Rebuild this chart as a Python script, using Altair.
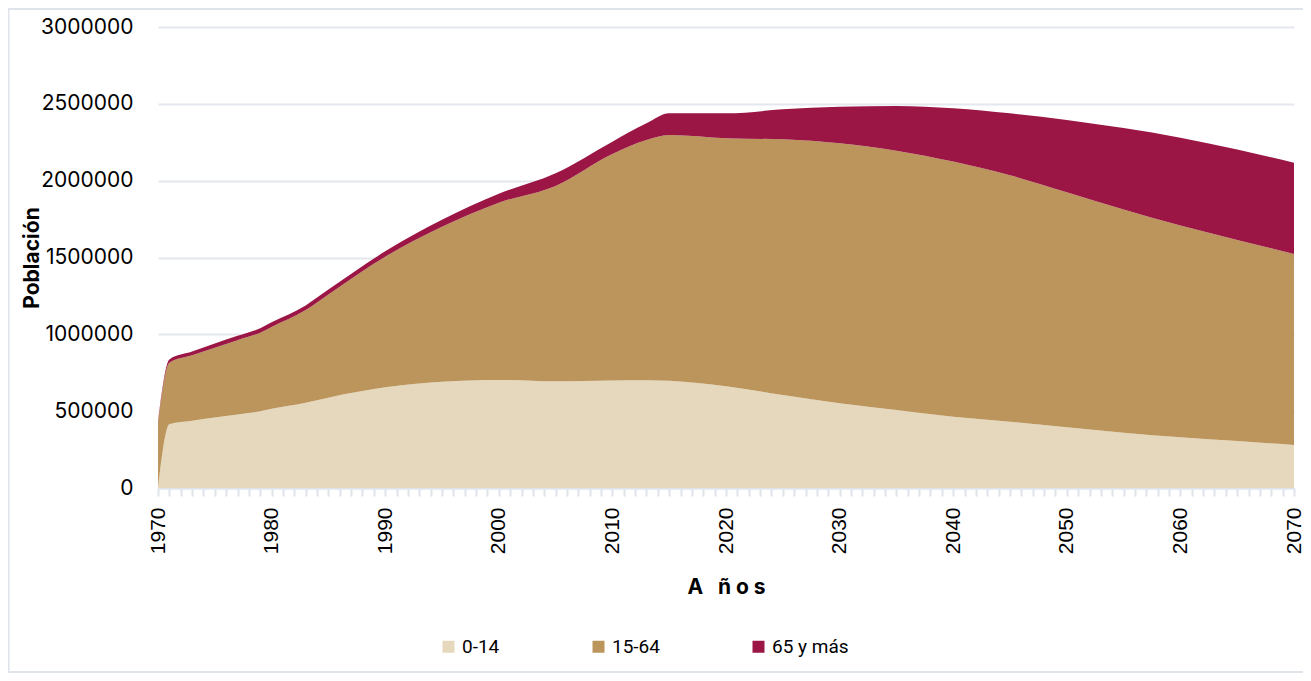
import altair as alt
import pandas as pd

years = [1970, 1971, 1973, 1975, 1977, 1979, 1980, 1983, 1985, 1990, 1995, 2000,
         2005, 2010, 2013, 2015, 2020, 2025, 2030, 2035, 2040, 2045, 2050, 2055,
         2060, 2065, 2070]
pop_0_14 = [0, 415000, 437000, 458000, 479000, 500000, 515000, 555000, 588000,
            655000, 692000, 703000, 694000, 700000, 702000, 698000, 662000,
            605000, 551000, 508000, 464000, 431000, 395000, 360000, 330000,
            306000, 280000]
pop_15_64 = [420000, 400000, 427000, 455000, 483000, 511000, 533000, 603000,
             672000, 850000, 1008000, 1154000, 1272000, 1473000, 1562000,
             1599000, 1614000, 1664000, 1692000, 1687000, 1660000, 1604000,
             1530000, 1452000, 1378000, 1308000, 1243000]
pop_65 = [12000, 22000, 24000, 27000, 28000, 29000, 30000, 30000, 31000, 35000,
          45000, 58000, 82000, 81000, 109000, 141000, 162000, 195000, 238000,
          291000, 347000, 403000, 470000, 530000, 572000, 589000, 594000]

groups = ["0-14", "15-64", "65 y más"]
colors = ["#E5D8BC", "#BC955C", "#9B1545"]

x_ticks = list(range(1970, 2071))
y_ticks = [0, 500000, 1000000, 1500000, 2000000, 2500000, 3000000]

rows = []
for i, yr in enumerate(years):
    for k, (g, vals) in enumerate(zip(groups, [pop_0_14, pop_15_64, pop_65])):
        rows.append({"year": yr, "group": g, "value": vals[i], "ord": k})
df = pd.DataFrame(rows)

W, H = 1136, 461
PL, PT = 150, 19
SVG_W, SVG_H = 1295, 665

border = alt.Chart(pd.DataFrame({"k": [0]})).mark_rect(
    fillOpacity=0, stroke="#dfe3ea", strokeWidth=2
).encode(
    x=alt.value(-PL + 0.5), x2=alt.value(1400),
    y=alt.value(-PT + 1), y2=alt.value(SVG_H - 1 - PT)
)

area = alt.Chart(df).mark_area(interpolate="monotone").encode(
    x=alt.X("year:Q",
            scale=alt.Scale(domain=[1970, 2070], nice=False, zero=False),
            axis=alt.Axis(values=x_ticks, format="d",
                          labelExpr="datum.value % 10 == 0 ? datum.label : ''",
                          labelOverlap=False, labelAngle=-90,
                          labelFont="Liberation Sans", labelFontSize=21,
                          labelColor="#000000", labelPadding=11,
                          domainColor="#dfe3ea", domainWidth=2,
                          tickColor="#dfe3ea", tickWidth=2, tickSize=8,
                          grid=False,
                          title="A\u00a0\u00a0\u00a0ñ o s", titleFont="Inter",
                          titleFontSize=21,
                          titleFontWeight="bold", titleColor="#000000",
                          titleY=105, titleBaseline="alphabetic")),
    y=alt.Y("value:Q", stack="zero",
            scale=alt.Scale(domain=[0, 3000000], nice=False),
            axis=alt.Axis(values=y_ticks, format="d", domain=False, ticks=False,
                          grid=True, gridColor="#e4e7ee", gridWidth=2,
                          labelFont="Inter", labelFontSize=21, labelColor="#000000",
                          labelPadding=25,
                          title="Población", titleFont="Inter", titleFontSize=21,
                          titleFontWeight="bold", titleColor="#000000",
                          titleX=-120, titleY=H / 2, titleBaseline="alphabetic")),
    color=alt.Color("group:N",
                    scale=alt.Scale(domain=groups, range=colors),
                    legend=alt.Legend(title=None, orient="none", legendX=281,
                                      legendY=610, direction="horizontal",
                                      symbolType="square", symbolSize=144,
                                      symbolStrokeWidth=0, labelOffset=4,
                                      labelFont="Roboto", labelFontSize=19,
                                      labelColor="#000000", columnPadding=89)),
    order=alt.Order("ord:Q"),
)

chart = alt.layer(border, area).properties(
    width=W, height=H,
    autosize=alt.AutoSizeParams(type="none"),
    padding={"left": PL, "top": PT, "right": SVG_W - W - PL,
             "bottom": SVG_H - H - PT},
    background="#ffffff",
).configure_view(strokeWidth=0)

chart.save("out.html", embed_options={"renderer": "svg", "actions": False})
